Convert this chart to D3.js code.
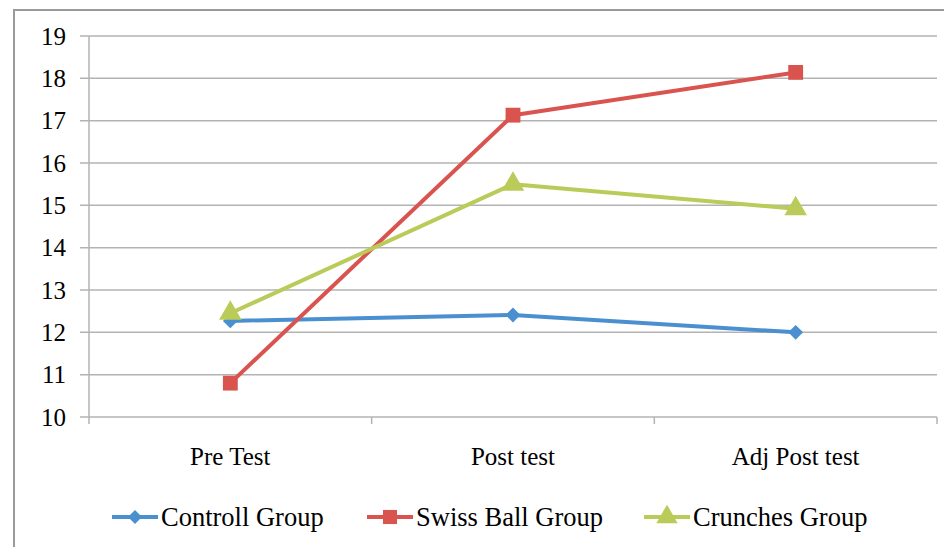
<!DOCTYPE html>
<html>
<head>
<meta charset="utf-8">
<script src="https://cdn.jsdelivr.net/npm/d3@7"></script>
<style>
  body { margin: 0; background: #fff; }
  text { font-family: "Liberation Serif", "Times New Roman", serif; fill: #000; }
</style>
</head>
<body>
<script>
const width = 944;
const height = 547;

const categories = ["Pre Test", "Post test", "Adj Post test"];
const seriesNames = ["Controll Group", "Swiss Ball Group", "Crunches Group"];
const controlValues = [12.27, 12.41, 12.0];
const swissValues = [10.8, 17.13, 18.14];
const crunchesValues = [12.45, 15.5, 14.92];
const yTicks = [10, 11, 12, 13, 14, 15, 16, 17, 18, 19];

const colors = ["#4a90d0", "#d9534f", "#bbcb5a"];
const serif = "Liberation Serif, Times New Roman, serif";

// diamond = square turned 45 degrees
const markers = [
    { type: d3.symbolSquare, size: 110, rotate: 45 },
    { type: d3.symbolSquare, size: 220, rotate: 0 },
    { type: d3.symbolTriangle, size: 220, rotate: 0 }
];

const series = [controlValues, swissValues, crunchesValues].map((vals, i) => ({
    name: seriesNames[i],
    values: vals,
    color: colors[i],
    marker: markers[i]
}));

const svg = d3.select("body").append("svg")
    .attr("width", width)
    .attr("height", height);

// outer frame (only top and left visible)
svg.append("path")
    .attr("d", "M14,547 L14,10 L944,10")
    .attr("fill", "none")
    .attr("stroke", "#9a9a9a")
    .attr("stroke-width", 2);

const x = d3.scaleBand()
    .domain(categories)
    .range([89, 937]);

const y = d3.scaleLinear()
    .domain([10, 19])
    .range([417, 36]);

// gridlines
svg.append("g")
    .selectAll("line")
    .data(yTicks)
    .enter()
    .append("line")
    .attr("x1", 80)
    .attr("x2", 937)
    .attr("y1", (d) => y(d))
    .attr("y2", (d) => y(d))
    .attr("stroke", "#b3b3b3")
    .attr("stroke-width", 1.5);

// y axis line
svg.append("line")
    .attr("x1", 89).attr("x2", 89)
    .attr("y1", y(19)).attr("y2", y(10))
    .attr("stroke", "#b3b3b3")
    .attr("stroke-width", 1.5);

// x axis tick marks at band edges
const edges = categories.map((c) => x(c)).concat([x.range()[1]]);
svg.append("g")
    .selectAll("line")
    .data(edges)
    .enter()
    .append("line")
    .attr("x1", (d) => d).attr("x2", (d) => d)
    .attr("y1", y(10)).attr("y2", y(10) + 7)
    .attr("stroke", "#b3b3b3")
    .attr("stroke-width", 1.5);

// y tick labels
svg.append("g")
    .selectAll("text")
    .data(yTicks)
    .enter()
    .append("text")
    .attr("x", 66)
    .attr("y", (d) => y(d))
    .attr("dy", "0.35em")
    .attr("text-anchor", "end")
    .attr("font-family", serif)
    .attr("font-size", 25)
    .text((d) => d);

// category labels
svg.append("g")
    .selectAll("text")
    .data(categories)
    .enter()
    .append("text")
    .attr("x", (d) => x(d) + x.bandwidth() / 2)
    .attr("y", 465)
    .attr("text-anchor", "middle")
    .attr("font-family", serif)
    .attr("font-size", 25)
    .text((d) => d);

const line = d3.line()
    .x((d, i) => x(categories[i]) + x.bandwidth() / 2)
    .y((d) => y(d));

series.forEach((s) => {
    svg.append("path")
        .attr("d", line(s.values))
        .attr("fill", "none")
        .attr("stroke", s.color)
        .attr("stroke-width", 4)
        .attr("stroke-linejoin", "round");

    svg.append("g")
        .selectAll("path")
        .data(s.values)
        .enter()
        .append("path")
        .attr("d", d3.symbol().type(s.marker.type).size(s.marker.size))
        .attr("transform", (d, i) => "translate(" + (x(categories[i]) + x.bandwidth() / 2) + "," + y(d) + ") rotate(" + s.marker.rotate + ")")
        .attr("fill", s.color);
});

// legend
const legendX = [112, 367, 644];
const legend = svg.append("g")
    .selectAll("g")
    .data(series)
    .enter()
    .append("g")
    .attr("transform", (d, i) => "translate(" + legendX[i] + ",517)");

legend.append("line")
    .attr("x1", 0).attr("x2", 46)
    .attr("stroke", (d) => d.color)
    .attr("stroke-width", 4);

legend.append("path")
    .attr("d", (d) => d3.symbol().type(d.marker.type).size(d.marker.size * 0.9)())
    .attr("transform", (d) => "translate(23,0) rotate(" + d.marker.rotate + ")")
    .attr("fill", (d) => d.color);

legend.append("text")
    .attr("x", 49)
    .attr("dy", "0.35em")
    .attr("font-family", serif)
    .attr("font-size", 26.5)
    .text((d) => d.name);
</script>
</body>
</html>
